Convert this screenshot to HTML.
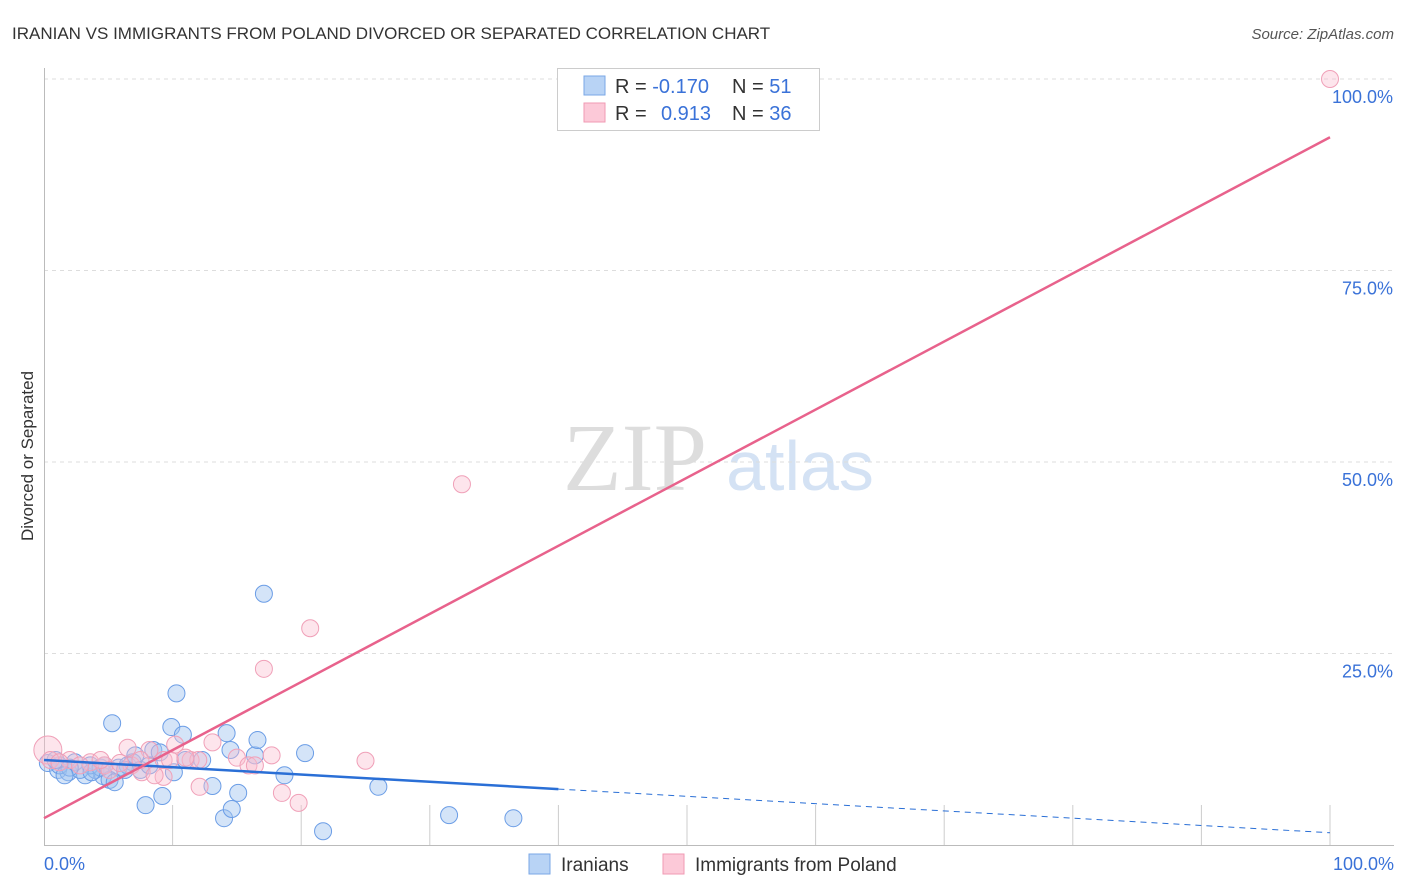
<!DOCTYPE html>
<html><head><meta charset="utf-8"><style>
body{margin:0;background:#fff;font-family:"Liberation Sans",sans-serif;}
svg{display:block}
</style></head><body>
<svg id="chart" width="1406" height="892">
<text x="12" y="39" font-size="17" fill="#333">IRANIAN VS IMMIGRANTS FROM POLAND DIVORCED OR SEPARATED CORRELATION CHART</text>
<text x="1394" y="39" font-size="15" fill="#555" font-style="italic" text-anchor="end">Source: ZipAtlas.com</text>
<text x="33" y="456" font-size="17" fill="#333" text-anchor="middle" transform="rotate(-90 33 456)">Divorced or Separated</text>
<text x="635" y="490" font-size="96" fill="#ddd" font-family="Liberation Serif,serif" text-anchor="middle">ZIP</text>
<text x="800" y="490" font-size="70" fill="#d4e2f4" text-anchor="middle">atlas</text>
<g id="grid"></g>
<g id="axes"></g>
<g id="pts"></g>
<g id="trends"></g>
<g>
<rect x="557.5" y="68.5" width="262" height="62" fill="#fff" stroke="#ccc"/>
<rect x="584" y="76" width="21" height="19" fill="#b8d3f5" stroke="#7aa7e6"/>
<rect x="584" y="103" width="21" height="19" fill="#fcc9d8" stroke="#f09ab3"/>
<text x="615" y="93" font-size="20" fill="#333">R = <tspan fill="#3a72d8">-0.170</tspan></text>
<text x="732" y="93" font-size="20" fill="#333">N = <tspan fill="#3a72d8"> 51</tspan></text>
<text x="615" y="120" font-size="20" fill="#333">R = <tspan fill="#3a72d8" x="661">0.913</tspan></text>
<text x="732" y="120" font-size="20" fill="#333">N = <tspan fill="#3a72d8">36</tspan></text>
</g>
<g>
<rect x="529" y="854" width="21" height="20" fill="#b8d3f5" stroke="#7aa7e6"/>
<text x="561" y="871" font-size="19" fill="#333">Iranians</text>
<rect x="663" y="854" width="21" height="20" fill="#fcc9d8" stroke="#f09ab3"/>
<text x="695" y="871" font-size="19" fill="#333">Immigrants from Poland</text>
</g>
</svg>
<script>
const yTicks=[25,50,75,100];
const yTickLabels=["25.0%","50.0%","75.0%","100.0%"];
const xTickLabels=["0.0%","100.0%"];
const blueX=[0.3,1.1,1.9,2.4,3.2,4.0,4.6,5.3,5.8,6.5,6.9,7.1,7.9,8.5,9.2,9.9,10.1,10.3,10.8,12.3,13.1,14.0,14.2,14.6,15.1,16.4,16.6,17.1,18.7,20.3,21.7,26.0,31.5,36.5,3.6,4.4,5.1,2.8,1.2,5.5,7.5,6.3,0.9,2.0,4.7,3.7,1.6,8.2,9.0,14.5,11.0];
const blueY=[10.7,9.8,9.5,10.8,9.1,9.8,9.0,15.9,10.1,10.4,10.8,11.7,5.2,12.4,6.4,15.4,9.5,19.8,14.4,11.1,7.7,3.5,14.6,4.7,6.8,11.7,13.7,32.8,9.1,12.0,1.8,7.6,3.9,3.5,10.4,10.1,8.5,9.8,10.4,8.2,9.8,9.8,11.1,10.1,10.4,9.5,9.1,10.4,12.1,12.4,11.1];
const pinkX=[0.3,0.5,2.0,3.6,4.7,6.5,6.8,7.6,8.2,9.3,9.3,9.8,10.2,11.4,12.0,12.1,13.1,15.0,15.9,16.4,17.1,17.7,18.5,19.8,20.7,25.0,32.5,100,1.2,2.8,5.1,5.9,7.5,8.6,11.0,4.4];
const pinkY=[12.4,11.1,11.1,10.8,10.4,12.7,10.4,9.5,12.4,8.9,11.1,11.1,13.1,11.1,11.1,7.6,13.4,11.4,10.4,10.4,23.0,11.7,6.8,5.5,28.3,11.0,47.1,100,10.8,10.4,9.8,10.7,11.1,9.1,11.4,11.1];
const blueTrend=[11.1,1.6], blueSolidEnd=40;
const pinkTrend=[3.5,92.4];
const X=v=>44+v*12.86, Y=v=>845-v*7.66;
const NS="http://www.w3.org/2000/svg";
function mk(tag,attrs,parent){const e=document.createElementNS(NS,tag);for(const k in attrs)e.setAttribute(k,attrs[k]);parent.appendChild(e);return e;}
const grid=document.getElementById('grid'),axes=document.getElementById('axes'),pts=document.getElementById('pts'),tr=document.getElementById('trends');
yTicks.forEach((t,i)=>{
 const l=mk('line',{x1:44,x2:1394,y1:Y(t),y2:Y(t),stroke:'#ddd','stroke-dasharray':'4,4'},grid);
 
 
 const tx=mk('text',{x:1393,y:Y(t)+24,'font-size':18,fill:'#3a72d8','text-anchor':'end'},grid);
 tx.textContent=yTickLabels[i];
 
 
});
const ax=mk('path',{d:'M44.5 68V845.5H1394',stroke:'#bbb',fill:'none'},axes);


for(let i=1;i<=10;i++){
 const t=mk('line',{x1:X(i*10),x2:X(i*10),y1:805,y2:845,stroke:'#ccc'},axes);
 
 
}
[[0,'start',44],[100,'end',1394]].forEach((a,i)=>{
 const tx=mk('text',{x:a[2],y:870,'font-size':18,fill:'#3a72d8','text-anchor':a[1]},axes);
 tx.textContent=xTickLabels[i];
 
 
});
blueX.forEach((v,i)=>{
 const c=mk('circle',{cx:X(v),cy:Y(blueY[i]),r:8.5,fill:'rgba(160,196,240,0.45)',stroke:'#6b9de6','stroke-width':1},pts);
 
 
});
pinkX.forEach((v,i)=>{
 const c=mk('circle',{cx:X(v),cy:Y(pinkY[i]),r:i==0?14:8.5,fill:'rgba(250,190,208,0.4)',stroke:'#f0a0b8','stroke-width':1},pts);
 
 
});
const bAt=x=>blueTrend[0]+(blueTrend[1]-blueTrend[0])*x/100;
const b1=mk('line',{x1:X(0),y1:Y(bAt(0)),x2:X(blueSolidEnd),y2:Y(bAt(blueSolidEnd)),stroke:'#2a6fd6','stroke-width':2.5},tr);


const b2=mk('line',{x1:X(blueSolidEnd),y1:Y(bAt(blueSolidEnd)),x2:X(100),y2:Y(bAt(100)),stroke:'#2a6fd6','stroke-width':1,'stroke-dasharray':'6,5'},tr);


const p1=mk('line',{x1:X(0),y1:Y(pinkTrend[0]),x2:X(100),y2:Y(pinkTrend[1]),stroke:'#e8628c','stroke-width':2.5},tr);


</script>
</body></html>
